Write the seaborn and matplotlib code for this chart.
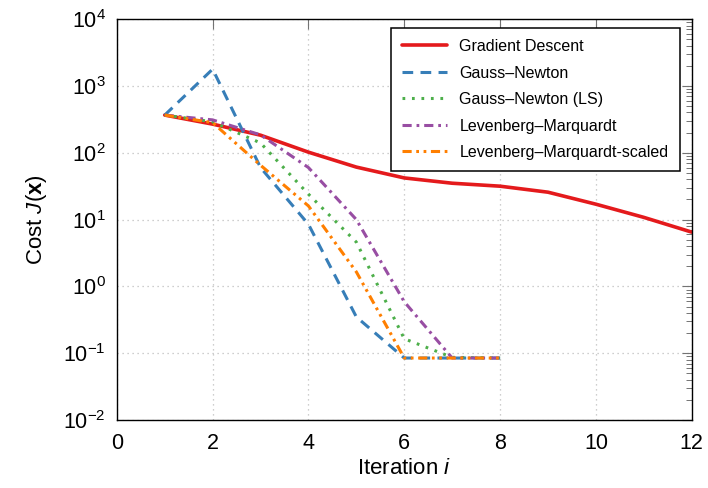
import numpy as np
import pandas as pd
import matplotlib
matplotlib.use("Agg")
import matplotlib.pyplot as plt
import matplotlib.ticker as mticker
import seaborn as sns

# --- donnees ---
iters_gd = [1, 2, 3, 4, 5, 6, 7, 8, 9, 10, 11, 12]
iters_2nd = [1, 2, 3, 4, 5, 6, 7, 8]

cost_gd = [366, 268, 183, 102, 61, 42, 35, 31.6, 25.7, 17, 10.8, 6.5]
cost_gn = [366, 1780, 60, 8.5, 0.35, 0.085, 0.085, 0.085]
cost_gn_ls = [366, 290, 140, 24, 4.6, 0.165, 0.087, 0.085]
cost_lm = [366, 310, 185, 60, 10, 0.59, 0.085, 0.085]
cost_lm_scaled = [366, 282, 65, 16, 1.65, 0.085, 0.085, 0.085]

labels = ["Gradient Descent", "Gauss\u2013Newton", "Gauss\u2013Newton (LS)",
          "Levenberg\u2013Marquardt", "Levenberg\u2013Marquardt-scaled"]
colors = ["#e41a1c", "#377eb8", "#4daf4a", "#984ea3", "#ff7f00"]

sns.set_theme(style="white")
plt.rcParams["font.family"] = ["Liberation Sans", "DejaVu Sans"]
plt.rcParams["mathtext.fontset"] = "custom"
plt.rcParams["mathtext.rm"] = "Liberation Sans"
plt.rcParams["mathtext.it"] = "Liberation Sans:italic"
plt.rcParams["mathtext.bf"] = "Liberation Sans:bold"
plt.rcParams["text.color"] = "black"
plt.rcParams["axes.labelcolor"] = "black"
plt.rcParams["xtick.labelcolor"] = "black"
plt.rcParams["ytick.labelcolor"] = "black"

fig = plt.figure(figsize=(7.08, 4.88), dpi=100)
ax = fig.add_axes([0.165, 0.139, 0.812, 0.822])

series = [
    (iters_gd, cost_gd, dict(lw=2.6, ls="-")),
    (iters_2nd, cost_gn, dict(lw=2.2, dashes=(3.5, 2.4))),
    (iters_2nd, cost_gn_ls, dict(lw=2.2, dashes=(0.9, 2.2))),
    (iters_2nd, cost_lm, dict(lw=2.2, dashes=(3.0, 1.6, 0.9, 1.6))),
    (iters_2nd, cost_lm_scaled, dict(lw=2.2, dashes=(3.0, 1.5, 0.9, 1.5, 0.9, 1.5))),
]

for (x, y, st), lab, col in zip(series, labels, colors):
    df = pd.DataFrame({"iter": x, "cost": y})
    line_kw = dict(st)
    dashes = line_kw.pop("dashes", None)
    sns.lineplot(data=df, x="iter", y="cost", ax=ax, color=col, label=lab, **line_kw)
    if dashes is not None:
        ax.lines[-1].set_dashes(dashes)

ax.set_yscale("log")
ax.set_xlim(0, 12)
ax.set_ylim(1e-2, 1e4)
ax.set_xticks([0, 2, 4, 6, 8, 10, 12])
ax.yaxis.set_major_locator(mticker.LogLocator(base=10, numticks=10))
ax.yaxis.set_minor_locator(mticker.LogLocator(base=10, subs=np.arange(2, 10), numticks=20))
ax.yaxis.set_minor_formatter(mticker.NullFormatter())

ax.grid(True, which="major", color="0.75", linestyle=(0, (1, 3)), linewidth=0.9)
ax.tick_params(which="both", direction="in", top=True, right=True, color="0.45",
               labelsize=15.5)
ax.tick_params(axis="x", pad=9)
ax.tick_params(axis="y", pad=8)
ax.tick_params(which="major", length=7, width=0.8)
ax.tick_params(which="minor", length=4.5, width=0.7)
for sp in ax.spines.values():
    sp.set_color("black")
    sp.set_linewidth(1.0)

ax.set_xlabel("Iteration $i$", fontsize=16, labelpad=3)
ax.set_ylabel("Cost $J(\\mathbf{x})$", fontsize=16, labelpad=10)

leg = ax.legend(loc="upper right", bbox_to_anchor=(0.979, 0.978), borderaxespad=0,
                fontsize=11.5, frameon=True, fancybox=False, framealpha=1,
                edgecolor="black", handlelength=2.8, labelspacing=0.72,
                borderpad=0.7, handletextpad=0.8)
leg.get_frame().set_linewidth(1.1)

plt.savefig("out.png", dpi=100)
plt.close()
